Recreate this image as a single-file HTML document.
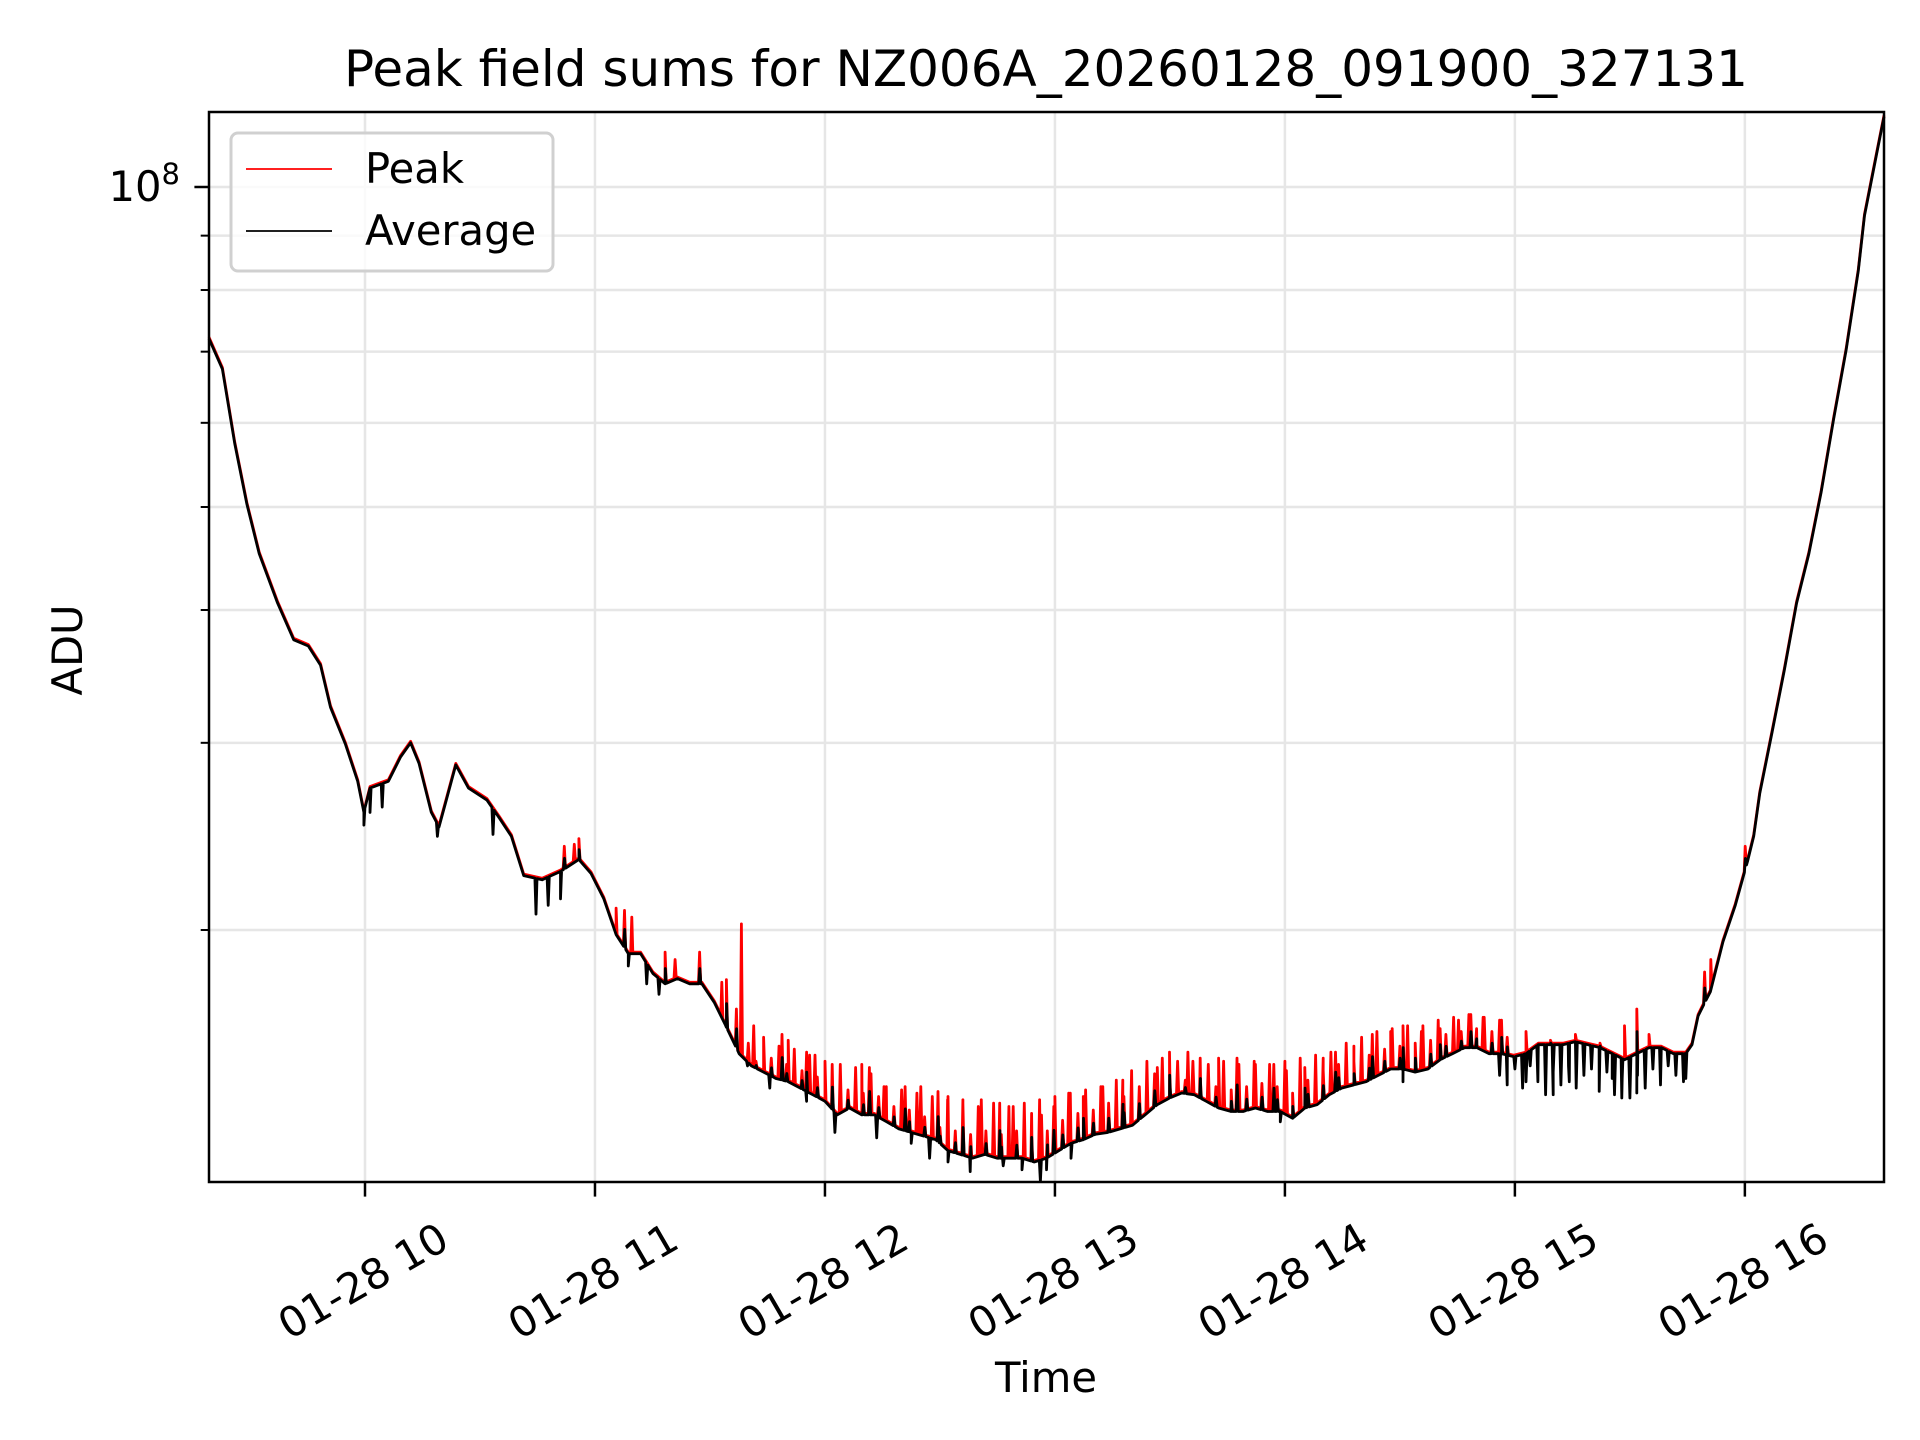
<!DOCTYPE html>
<html><head><meta charset="utf-8">
<style>
html,body{margin:0;padding:0;background:#fff;}
svg{display:block;font-family:"DejaVu Sans","Liberation Sans",sans-serif;}
</style></head>
<body>
<svg id="chart" width="1920" height="1440" viewBox="0 0 1920 1440" xmlns="http://www.w3.org/2000/svg">
<rect width="1920" height="1440" fill="#fff"/>
<text x="1046" y="86" font-size="50" text-anchor="middle" fill="#000">Peak field sums for NZ006A_20260128_091900_327131</text>
<text x="0" y="0" font-size="41.7" text-anchor="middle" transform="translate(82,650) rotate(-90)" fill="#000">ADU</text>
<text x="1046" y="1392" font-size="41.7" text-anchor="middle" fill="#000">Time</text>
<g id="grid"></g>
<g id="plot"></g>
<g id="axes"></g>
<g id="legend">
  <rect x="231" y="133" width="322" height="138" rx="7" fill="#fff" fill-opacity="0.8" stroke="#d0d0d0" stroke-width="3"/>
  <line x1="246" y1="169" x2="332" y2="169" stroke="#ff0000" stroke-width="1.7"/>
  <text x="365" y="183" font-size="41.7">Peak</text>
  <line x1="246" y1="231" x2="332" y2="231" stroke="#000" stroke-width="1.7"/>
  <text x="365" y="245" font-size="41.7">Average</text>
</g>
</svg>
<script>
// times: minutes after 09:00; values in millions of ADU
const avgTimes = [19.3,22.8,26.0,29.2,32.4,37.2,41.4,45.2,48.4,51.0,54.9,58.1,59.7,61.3,66.1,69.3,71.9,74.1,77.3,79.3,81.2,83.7,87.0,91.8,95.0,98.2,101.4,106.2,111.0,115.8,119.0,122.3,125.5,128.7,131.9,135.1,138.3,141.5,144.7,147.9,151.1,154.3,157.6,160.8,164.0,167.2,170.4,173.6,176.8,180.0,183.2,186.4,189.6,192.9,196.1,199.3,202.5,205.7,208.9,212.1,215.3,218.5,221.7,224.9,228.2,231.4,234.6,237.8,241.0,244.2,247.4,250.6,253.8,257.0,260.2,263.5,266.7,269.9,273.1,276.3,279.5,282.7,285.9,289.1,292.3,295.5,298.8,302.0,305.2,308.4,311.6,314.8,318.0,321.2,324.4,327.6,330.8,334.0,337.3,340.5,343.7,346.9,350.1,353.3,356.5,359.7,362.9,366.1,369.3,372.5,375.8,379.0,382.2,385.4,388.6,391.8,395.0,398.2,401.4,404.6,406.2,407.8,411.0,414.3,417.5,420.7,422.3,423.9,427.1,430.3,433.5,436.7,439.9,443.2,446.4,449.6,451.2,452.8,454.4,456.3];
const avgValues = [72.0,67.4,57.4,50.3,45.2,40.6,37.5,37.0,35.5,32.4,29.9,27.6,25.8,27.2,27.6,29.1,30.0,28.7,25.8,25.0,26.5,28.6,27.2,26.5,25.5,24.5,22.5,22.3,22.7,23.3,22.6,21.4,19.8,19.0,19.0,18.2,17.8,18.0,17.8,17.8,17.1,16.2,15.3,14.9,14.7,14.5,14.4,14.2,14.0,13.8,13.4,13.6,13.4,13.4,13.2,13.0,12.9,12.8,12.7,12.4,12.3,12.2,12.3,12.2,12.2,12.2,12.1,12.2,12.4,12.6,12.7,12.85,12.9,13.0,13.1,13.4,13.7,13.9,14.05,14.0,13.8,13.6,13.5,13.5,13.6,13.5,13.5,13.3,13.6,13.7,14.0,14.2,14.3,14.4,14.6,14.8,14.8,14.7,14.8,15.1,15.3,15.5,15.5,15.3,15.3,15.2,15.3,15.6,15.6,15.6,15.7,15.6,15.5,15.3,15.1,15.3,15.5,15.5,15.3,15.3,15.6,16.6,17.5,19.5,21.1,23.2,24.5,26.9,30.7,35.1,40.6,45.2,51.6,60.6,70.2,83.4,94.0,100.5,107.5,116.4];
const peakSpikeTimes = [112.0,114.6,115.8,125.5,127.7,129.6,138.3,140.9,147.3,153.1,154.3,158.2,156.9,161.4,168.8,170.4,175.2,177.4,181.9,189.6,191.6,195.4,200.9,205.0,209.5,212.1,216.0,220.8,225.6,229.1,233.9,236.5,239.7,243.6,247.4,252.5,257.7,266.7,269.9,274.7,277.9,282.7,287.5,292.3,297.1,300.4,305.2,310.0,313.2,318.0,322.8,327.6,330.8,335.6,340.5,345.3,348.5,351.7,356.5,362.9,369.3,375.8,382.2,388.6,391.8,395.0,409.5,411.1,420.1];
const peakSpikeValues = [23.9,24.0,24.3,20.9,20.8,20.5,19.0,18.7,19.0,17.8,17.9,20.2,16.8,16.2,15.9,15.7,15.3,15.2,14.9,14.9,14.8,14.2,14.2,14.2,14.05,13.9,13.8,13.8,13.7,13.6,13.4,13.35,13.6,14.0,13.9,14.2,14.4,14.8,15.3,15.3,15.1,15.1,15.1,14.9,14.9,14.7,14.8,15.1,15.3,15.5,15.9,16.0,16.2,16.0,16.1,16.4,16.6,16.5,16.4,16.0,15.7,15.9,15.6,16.2,16.8,15.9,18.2,18.7,23.9];
const extraSpikeTimes = [160,162,164,166,168,170,172,174,176,178,180,182,184,186,188,190,192,194,196,198,200,202,204,206,208,210,212,214,216,218,220,222,224,226,228,230,232,234,236,238,240,242,244,246,248,250,252,254,256,258,260,262,264,266,268,270,272,274,276,278,280,282,284,286,288,290,292,294,296,298,300,302,304,306,308,310,312,314,316,318,320,322,324,326,328,330,332,334,336,338,340,342,344,346,348,350,352,354,356,358];
const extraSpikeValues = [15.6,15.0,15.8,15.1,15.5,14.9,15.4,14.7,15.2,14.5,15.0,14.3,14.9,14.1,14.8,14.0,14.6,13.9,14.2,13.6,14.1,13.5,14.0,13.3,13.9,13.0,13.8,12.9,13.7,12.8,13.6,12.9,13.7,12.8,13.6,12.9,13.7,12.7,13.8,12.9,13.9,13.2,14.0,13.4,14.1,13.5,14.2,13.7,14.4,13.9,14.7,14.2,15.0,14.6,15.1,14.5,15.0,14.4,15.0,14.3,14.9,14.2,15.0,14.1,14.9,14.2,15.0,14.3,14.9,14.2,15.0,14.0,15.1,14.4,15.2,14.7,15.3,14.9,15.6,15.0,15.8,15.2,16.0,15.4,16.1,15.5,16.2,15.6,16.2,15.7,16.4,15.9,16.5,16.0,16.6,16.1,16.5,16.0,16.4,15.8];
const dipTimes = [59.7,61.3,64.5,78.9,93.4,104.6,107.8,111.0,128.7,133.5,136.7,159.8,165.6,175.2,182.6,193.5,202.5,207.3,212.1,217.9,226.5,231.4,236.2,237.8,244.2,298.8,305.2,330.8,362.9,370.0,374.2,385.4,387.9,391.8,404.6];
const dipValues = [25.1,25.8,26.1,24.5,24.6,20.7,21.1,21.4,18.5,17.8,17.4,14.9,14.2,13.8,12.9,12.75,12.6,12.2,12.1,11.85,12.0,11.9,11.6,11.9,12.2,13.2,13.6,14.4,14.4,14.0,14.4,14.5,13.9,14.05,14.5];
const extraDipTimes = [356,358,360,362,364,366,368,370,372,374,376,378,380,382,384,386,388,390,392,394,396,398,400,402,404];
const extraDipValues = [14.6,14.3,14.8,14.2,14.9,14.4,14.0,14.7,14.3,14.9,14.2,14.6,14.8,14.1,14.7,14.0,14.5,13.9,14.6,14.2,14.8,14.3,14.9,14.6,14.4];
const xTickLabels = ["01-28 10","01-28 11","01-28 12","01-28 13","01-28 14","01-28 15","01-28 16"];
const xTickMinutes = [60,120,180,240,300,360,420];
const yMinorValues = [20,30,40,50,60,70,80,90];

const NS = "http://www.w3.org/2000/svg";
const L = 209, R = 1884, T = 112, B = 1182;
const tMin = 19.3, tMax = 456.3;
const decadePx = 1063, y1e8 = 187;
function xs(t){ return L + (t - tMin) / (tMax - tMin) * (R - L); }
function ys(vM){ return y1e8 - Math.log10(vM / 100) * decadePx; }
function mk(tag, attrs, parent){ const e = document.createElementNS(NS, tag); for (const k in attrs) e.setAttribute(k, attrs[k]); parent.appendChild(e); return e; }
function interp(t){
  for (let i = 1; i < avgTimes.length; i++) if (t <= avgTimes[i]) {
    const f = (t - avgTimes[i-1]) / (avgTimes[i] - avgTimes[i-1]);
    return avgValues[i-1] + f * (avgValues[i] - avgValues[i-1]);
  }
  return avgValues[avgValues.length - 1];
}
function buildSeries(spikes){
  const pts = avgTimes.map((t, i) => [t, avgValues[i]]);
  spikes.forEach(s => { pts.push([s[0] - 0.28, interp(s[0] - 0.28)]); pts.push([s[0], s[1]]); pts.push([s[0] + 0.28, interp(s[0] + 0.28)]); });
  pts.sort((a, b) => a[0] - b[0]);
  return pts.map(p => xs(p[0]).toFixed(1) + "," + ys(p[1]).toFixed(1)).join(" ");
}
const redSpikes = [];
peakSpikeTimes.forEach((t, i) => redSpikes.push([t, peakSpikeValues[i]]));
extraSpikeTimes.forEach((t, i) => redSpikes.push([t, extraSpikeValues[i]]));
const blackSpikes = [];
dipTimes.forEach((t, i) => blackSpikes.push([t, dipValues[i]]));
extraDipTimes.forEach((t, i) => blackSpikes.push([t, extraDipValues[i]]));
redSpikes.forEach((s, i) => { if (i % 2 === 0) { const a = interp(s[0]); blackSpikes.push([s[0] + 0.05, a + 0.5 * (s[1] - a)]); } });

const grid = document.getElementById("grid"), plot = document.getElementById("plot"), axes = document.getElementById("axes");
const gy = [100].concat(yMinorValues);
gy.forEach(v => {
  const l = mk("line", {x1: L, x2: R, y1: ys(v), y2: ys(v), stroke: "#e6e6e6", "stroke-width": 2.5}, grid);
  
  
});
xTickMinutes.forEach(m => {
  const l = mk("line", {x1: xs(m), x2: xs(m), y1: T, y2: B, stroke: "#e6e6e6", "stroke-width": 2.5}, grid);
  
  
});
const peak = mk("polyline", {points: buildSeries(redSpikes), fill: "none", stroke: "#ff0000", "stroke-width": 2.8, "stroke-linejoin": "round", transform: "translate(0,-1.5)"}, plot);


const avg = mk("polyline", {points: buildSeries(blackSpikes), fill: "none", stroke: "#000", "stroke-width": 2.8, "stroke-linejoin": "round"}, plot);


const frame = mk("rect", {x: L, y: T, width: R - L, height: B - T, fill: "none", stroke: "#000", "stroke-width": 2.5}, axes);


xTickMinutes.forEach((m, i) => {
  const x = xs(m);
  const t = mk("line", {x1: x, x2: x, y1: B, y2: B + 14.6, stroke: "#000", "stroke-width": 2.5}, axes);
  
  
  const lbl = mk("text", {x: 0, y: 0, "font-size": 41.7, "text-anchor": "middle", "dominant-baseline": "central", transform: `translate(${x - 2},1281) rotate(-30)`}, axes);
  lbl.textContent = xTickLabels[i];
  
  
});
const ym = mk("line", {x1: L - 14.6, x2: L, y1: ys(100), y2: ys(100), stroke: "#000", "stroke-width": 2.5}, axes);


const yl = mk("text", {x: 180, y: ys(100) + 14, "font-size": 41.7, "text-anchor": "end"}, axes);
yl.innerHTML = '10<tspan dy="-17" font-size="29">8</tspan>';


yMinorValues.forEach(v => {
  const t = mk("line", {x1: L - 8.3, x2: L, y1: ys(v), y2: ys(v), stroke: "#000", "stroke-width": 2}, axes);
  
  
});
</script>
</body></html>
